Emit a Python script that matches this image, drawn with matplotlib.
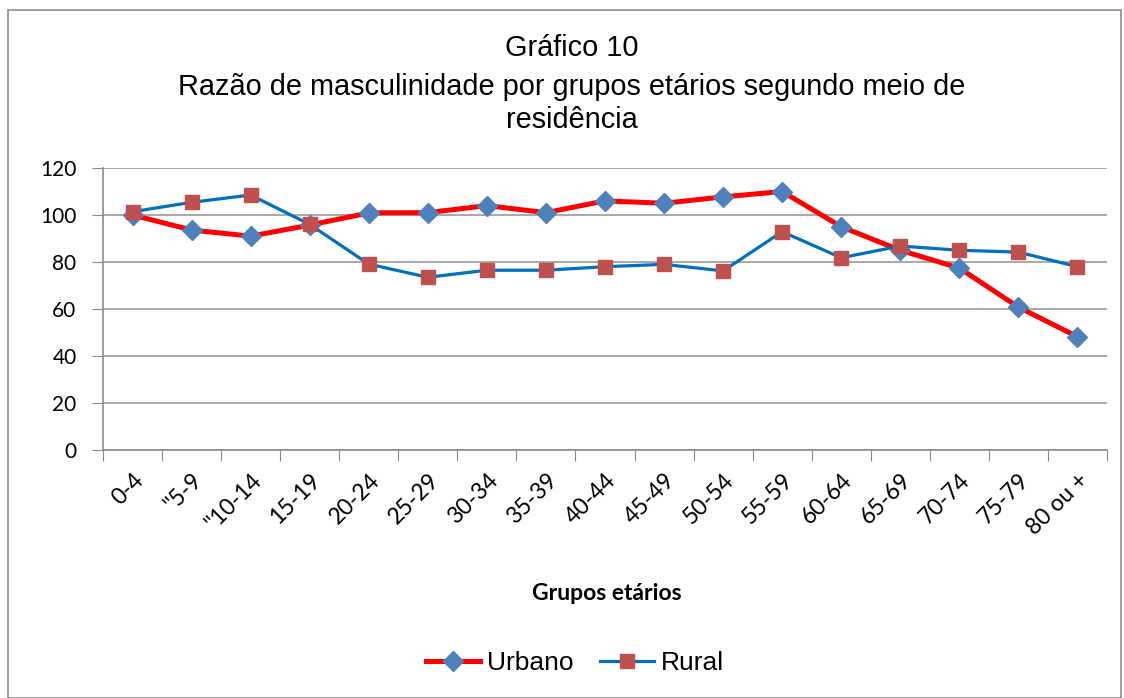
import matplotlib
matplotlib.use("Agg")
import matplotlib.pyplot as plt
import numpy as np
from matplotlib.patches import Rectangle

# Dados
grupos = ['0-4', '"5-9', '"10-14', '15-19', '20-24', '25-29', '30-34', '35-39', '40-44',
          '45-49', '50-54', '55-59', '60-64', '65-69', '70-74', '75-79', '80 ou +']
urbano = [100, 93.6, 91, 95.7, 100.9, 101, 104, 101, 106, 105, 107.7, 110, 95, 85, 77.4, 60.8, 48.2]
rural = [101.4, 105.4, 108.5, 96, 79.1, 73.5, 76.5, 76.5, 78, 79, 76.2, 92.9, 81.8, 86.8, 85, 84.2, 78]

plt.rcParams['font.family'] = ['Liberation Sans', 'DejaVu Sans']
calibri = ['Lato', 'DejaVu Sans']

fig = plt.figure(figsize=(11.24, 6.98), dpi=100)
ax = fig.add_axes([103/1124, 1 - 450/698, (1107 - 103)/1124, (450 - 168)/698])

# moldura externa
fig.patches.append(Rectangle((8/1124, 0.0), (1121 - 8)/1124, 1 - 10/698, transform=fig.transFigure,
                             fill=False, edgecolor='#8c8c8c', linewidth=1.2))

x = np.arange(len(grupos))
ax.plot(x, urbano, color='#ff0000', linewidth=3.6, marker='D', markersize=10,
        markerfacecolor='#4f81bd', markeredgecolor='#4f81bd', label='Urbano', zorder=3)
ax.plot(x, rural, color='#0070c0', linewidth=2.3, marker='s', markersize=10,
        markerfacecolor='#c0504d', markeredgecolor='#c0504d', label='Rural', zorder=4)

ax.set_xlim(-0.5, len(grupos) - 0.5)
ax.set_ylim(0, 120)
ax.set_yticks(range(0, 121, 20))
ax.set_yticklabels([str(v) for v in range(0, 121, 20)], family=calibri, fontsize=15)
ax.yaxis.grid(True, color='#9a9a9a', linewidth=1.2)
ax.set_axisbelow(True)

ax.set_xticks(np.arange(-0.5, len(grupos), 1))
ax.set_xticklabels([])
ax.set_xticks(x, minor=True)
ax.set_xticklabels(grupos, minor=True, rotation=45, ha='right', va='top', rotation_mode='anchor',
                   fontsize=16.5, family=calibri)
ax.tick_params(axis='x', which='minor', length=0, pad=14)
ax.tick_params(axis='x', which='major', length=8, color='#8c8c8c', direction='out')
ax.tick_params(axis='y', length=8, color='#8c8c8c', pad=11)

for s in ['top', 'right']:
    ax.spines[s].set_visible(False)
for s in ['left', 'bottom']:
    ax.spines[s].set_color('#8c8c8c')
    ax.spines[s].set_linewidth(1.2)

titulo = ['Gráfico 10', 'Razão de masculinidade por grupos etários segundo meio de', 'residência']
for linha, ypix in zip(titulo, [48, 87, 120]):
    fig.text(572/1124, 1 - ypix/698, linha, ha='center', va='center', fontsize=20.8)

fig.text(607/1124, 1 - 593/698, 'Grupos etários', ha='center', va='center', fontsize=16.5,
         fontweight='bold', family=calibri)

fig.legend(loc='center', bbox_to_anchor=(575/1124, 1 - 663/698), ncol=2, frameon=False,
           fontsize=19, handlelength=2.05, columnspacing=1.0, handletextpad=0.25)

fig.savefig('out.png', dpi=100)
